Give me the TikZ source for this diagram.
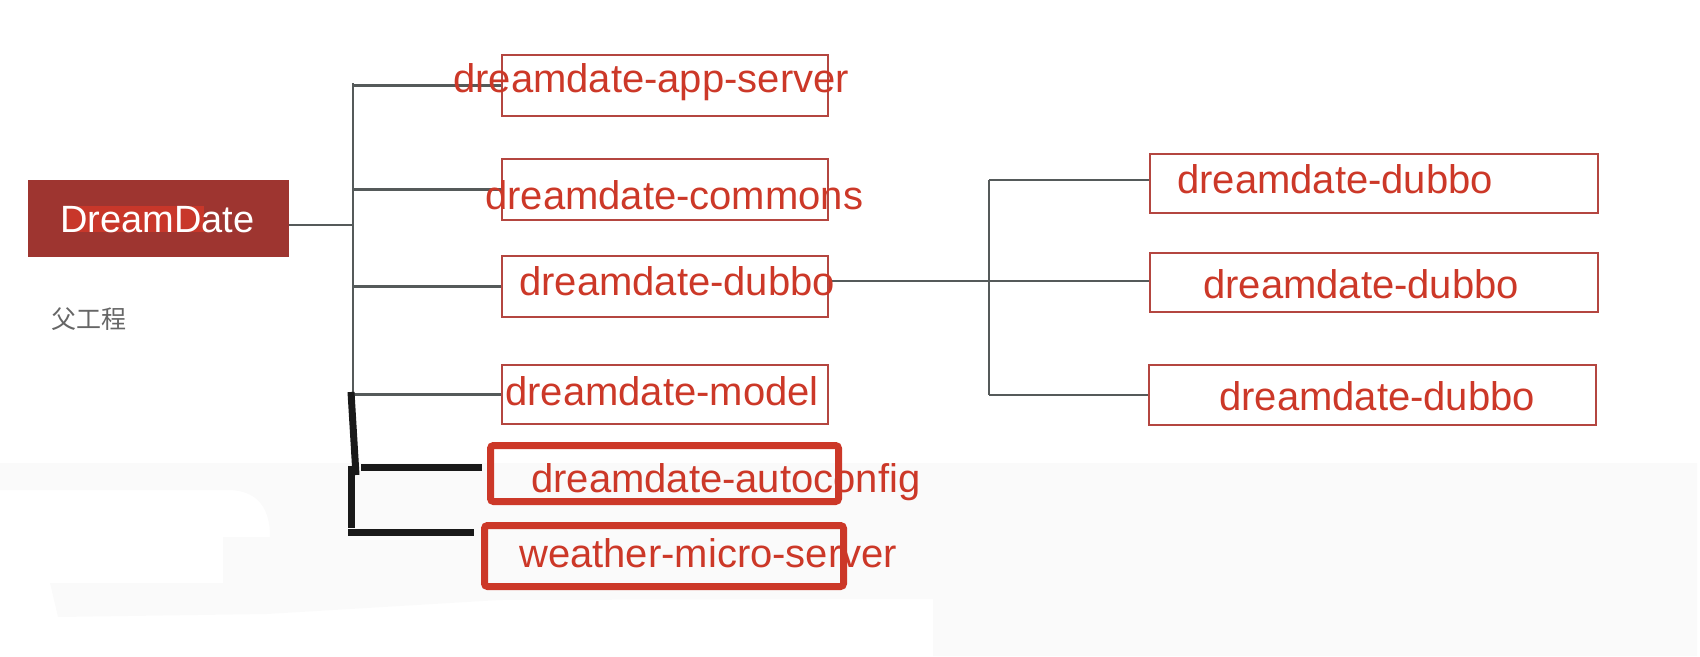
\documentclass[tikz,border=0pt]{standalone}
\usepackage{fontspec}
\setmainfont{Liberation Sans}
\newfontfamily\cjkfont{Noto Sans CJK SC}
\definecolor{textred}{RGB}{204,56,40}
\definecolor{boxred}{RGB}{180,70,64}
\definecolor{rootred}{RGB}{158,53,48}
\definecolor{markred}{RGB}{200,55,42}
\definecolor{linegray}{RGB}{85,90,90}
\definecolor{inkblack}{RGB}{25,25,25}
\definecolor{paperbg}{RGB}{250,250,250}
\tikzset{
  modbox/.style={draw=boxred, line width=2.4pt, inner sep=0pt,
    minimum width=326pt, minimum height=61pt},
  subbox/.style={modbox, minimum width=448pt, minimum height=59pt},
  markbox/.style={draw=textred, line width=7pt, rounded corners=3pt, inner sep=0pt},
  modtext/.style={anchor=base west, inner sep=0pt, text=textred,
    font=\fontsize{40}{48}\selectfont},
  thinline/.style={draw=linegray, line width=2.6pt},
  handline/.style={draw=inkblack, line width=7pt},
}
\begin{document}
\begin{tikzpicture}[x=1pt,y=-1pt]
  \useasboundingbox (0,0) rectangle (1700,656);
  % faint screenshot background
  \fill[paperbg] (0,463) -- (1697,463) -- (1697,656) -- (933,656) -- (933,599)
    -- (500,600) -- (267,614) -- (58,617) -- (50,583) -- (223,583) -- (223,537)
    -- (270,537) .. controls (270,502) and (252,490) .. (227,490) -- (0,490) -- cycle;

  % root
  \node[fill=rootred, inner sep=0pt, minimum width=261pt, minimum height=77pt]
    (dream) at (158.5,218.5) {};
  \fill[markred] (63,206) rectangle (204,232);
  \node[anchor=base west, inner sep=0pt, text=white,
    font=\fontsize{38}{46}\selectfont] (dreamT) at (60,232) {DreamDate};
  \node[anchor=base west, inner sep=0pt, text=black!60,
    font=\cjkfont\fontsize{25}{30}\selectfont] (parentT) at (51,328) {父工程};

  % modules
  \node[modbox] (app) at (665,85.5) {};
  \node[modbox] (commons) at (665,189.5) {};
  \node[modbox] (dubbo) at (665,286.5) {};
  \node[modbox, minimum height=59pt] (model) at (665,394.5) {};
  \node[markbox, minimum width=348pt, minimum height=56pt] (auto) at (664.5,473.5) {};
  \node[markbox, minimum width=359pt, minimum height=61pt] (weather) at (664,556) {};

  \node[subbox] (sub1) at (1374,183.5) {};
  \node[subbox] (sub2) at (1374,282.5) {};
  \node[subbox, minimum width=447pt, minimum height=60pt] (sub3) at (1372.5,395) {};

  % trunks
  \coordinate (t0) at (353,83);
  \coordinate (t1) at (353,225);
  \coordinate (t2) at (353,394);
  \coordinate (r0) at (989,180);
  \coordinate (r1) at (989,281);
  \coordinate (r2) at (989,395);
  \begin{scope}[thinline]
    \draw (t0) -- (t2);
    \draw (t1) -- (t1 -| dream.east);
    \draw (app.west) -- (app.west -| t0);
    \draw (commons.west) -- (commons.west -| t0);
    \draw (dubbo.west) -- (dubbo.west -| t0);
    \draw (model.west) -- (model.west -| t0);
    \draw (r0) -- (r2);
    \draw (r1) -- (r1 -| dubbo.east);
    \draw (r0) -- (r0 -| sub1.west);
    \draw (r1) -- (r1 -| sub2.west);
    \draw (r2) -- (r2 -| sub3.west);
  \end{scope}

  % hand-drawn additions
  \coordinate (h0) at (351,392);
  \coordinate (h1) at (356,475);
  \coordinate (h2) at (361,467);
  \coordinate (h3) at (351,466);
  \coordinate (h4) at (348,532);
  \begin{scope}[handline]
    \draw (h0) -- (h1);
    \draw[shorten >=5pt] (h2) -- (h2 -| auto.west);
    \draw (h3) -- (351,528);
    \draw[shorten >=7pt] (h4) -- (h4 -| weather.west);
  \end{scope}

  % labels
  \node[modtext] (appT) at (453,92) {dreamdate-app-server};
  \node[modtext] (commonsT) at (485,209) {dreamdate-commons};
  \node[modtext] (dubboT) at (519,295) {dreamdate-dubbo};
  \node[modtext] (modelT) at (505,405) {dreamdate-model};
  \node[modtext] (autoT) at (531,492) {dreamdate-autoconfig};
  \node[modtext] (weatherT) at (519,567) {weather-micro-server};
  \node[modtext] (sub1T) at (1177,193) {dreamdate-dubbo};
  \node[modtext] (sub2T) at (1203,298) {dreamdate-dubbo};
  \node[modtext] (sub3T) at (1219,410) {dreamdate-dubbo};
\end{tikzpicture}
\end{document}
